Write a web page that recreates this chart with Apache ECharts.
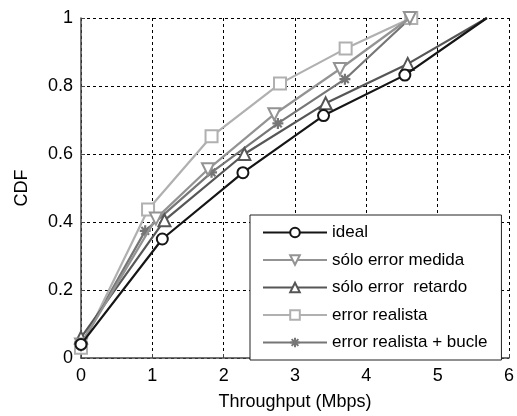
<!DOCTYPE html>
<html><head><meta charset="utf-8">
<script src="https://cdn.jsdelivr.net/npm/echarts@6/dist/echarts.min.js"></script>
<style>html,body{margin:0;padding:0;background:#fff}#c{width:517px;height:416px}</style>
</head><body><div id="c"></div>
<script>
var seriesNames = ['ideal', 'sólo error medida', 'sólo error  retardo', 'error realista', 'error realista + bucle'];
var xTicks = [0, 1, 2, 3, 4, 5, 6];
var yTicks = [0, 0.2, 0.4, 0.6, 0.8, 1];
var ideal    = [[0, 0.04], [1.14, 0.35], [2.27, 0.545], [3.40, 0.713], [4.54, 0.832], [5.69, 1.0]];
var medida   = [[0, 0.04], [1.05, 0.41], [1.78, 0.555], [2.71, 0.717], [3.63, 0.85], [4.61, 1.0]];
var retardo  = [[0, 0.06], [1.17, 0.405], [2.29, 0.60], [3.43, 0.749], [4.58, 0.865], [5.69, 1.0]];
var realista = [[0, 0.03], [0.94, 0.437], [1.83, 0.652], [2.79, 0.807], [3.71, 0.91], [4.63, 1.0]];
var bucle    = [[0, 0.04], [0.90, 0.374], [1.83, 0.546], [2.76, 0.69], [3.70, 0.82], [4.62, 1.0]];
var hiddenMarkerLast = [true, false, true, false, false];

var colors = ['#151515', '#939393', '#565656', '#b0b0b0', '#767676'];
var symbols = ['emptyCircle', 'emptyTriangle', 'emptyTriangle', 'emptyRect',
  'path://M0,-10L0,10M-10,0L10,0M-7,-7L7,7M-7,7L7,-7'];
var rotates = [0, 180, 0, 0, 0];
var sizes = [11, 12, 12, 12, 11];
var datas = [ideal, medida, retardo, realista, bucle];

var series = datas.map(function (d, i) {
  return {
    name: seriesNames[i],
    type: 'line',
    symbol: symbols[i],
    symbolSize: sizes[i],
    symbolRotate: rotates[i],
    showAllSymbol: true,
    z: 10 - i,
    lineStyle: { color: colors[i], width: 2.2 },
    itemStyle: { color: colors[i], borderColor: colors[i], borderWidth: 2.2 },
    emphasis: { disabled: true },
    data: d.map(function (p, j) {
      if (hiddenMarkerLast[i] && j === d.length - 1) return { value: p, symbol: 'none' };
      return { value: p };
    })
  };
});

var chart = echarts.init(document.getElementById('c'), null, { renderer: 'canvas' });
chart.setOption({
  backgroundColor: '#fff',
  animation: false,
  textStyle: { fontFamily: 'Liberation Sans, Arial, sans-serif' },
  grid: { left: 81, right: 6, top: 18, bottom: 53 },
  xAxis: {
    type: 'value', min: xTicks[0], max: xTicks[xTicks.length - 1], interval: 1,
    name: 'Throughput (Mbps)', nameLocation: 'middle', nameGap: 35,
    nameTextStyle: { color: '#000', fontSize: 18 },
    axisLine: { show: true, lineStyle: { color: '#444', width: 1.5 } },
    axisTick: { show: true, inside: true, length: 4, lineStyle: { color: '#444' } },
    axisLabel: { color: '#000', fontSize: 18, margin: 9 },
    splitLine: { show: true, lineStyle: { color: '#000', type: [3, 3], width: 1 } }
  },
  yAxis: {
    type: 'value', min: yTicks[0], max: yTicks[yTicks.length - 1], interval: 0.2,
    name: 'CDF', nameLocation: 'middle', nameGap: 50, nameRotate: 90,
    nameTextStyle: { color: '#000', fontSize: 18 },
    axisLine: { show: true, lineStyle: { color: '#444', width: 1.5 } },
    axisTick: { show: true, inside: true, length: 4, lineStyle: { color: '#444' } },
    axisLabel: { color: '#000', fontSize: 18, margin: 8 },
    splitLine: { show: true, lineStyle: { color: '#000', type: [3, 3], width: 1 } }
  },
  legend: {
    orient: 'vertical',
    left: 250, top: 215,
    padding: [9, 14, 9, 12],
    itemWidth: 64, itemHeight: 12, itemGap: 10.5,
    backgroundColor: '#fff',
    borderColor: '#222', borderWidth: 1,
    borderRadius: 0,
    textStyle: { color: '#000', fontSize: 17, fontFamily: 'Liberation Sans, Arial, sans-serif' },
    data: seriesNames
  },
  series: series
});
</script></body></html>
